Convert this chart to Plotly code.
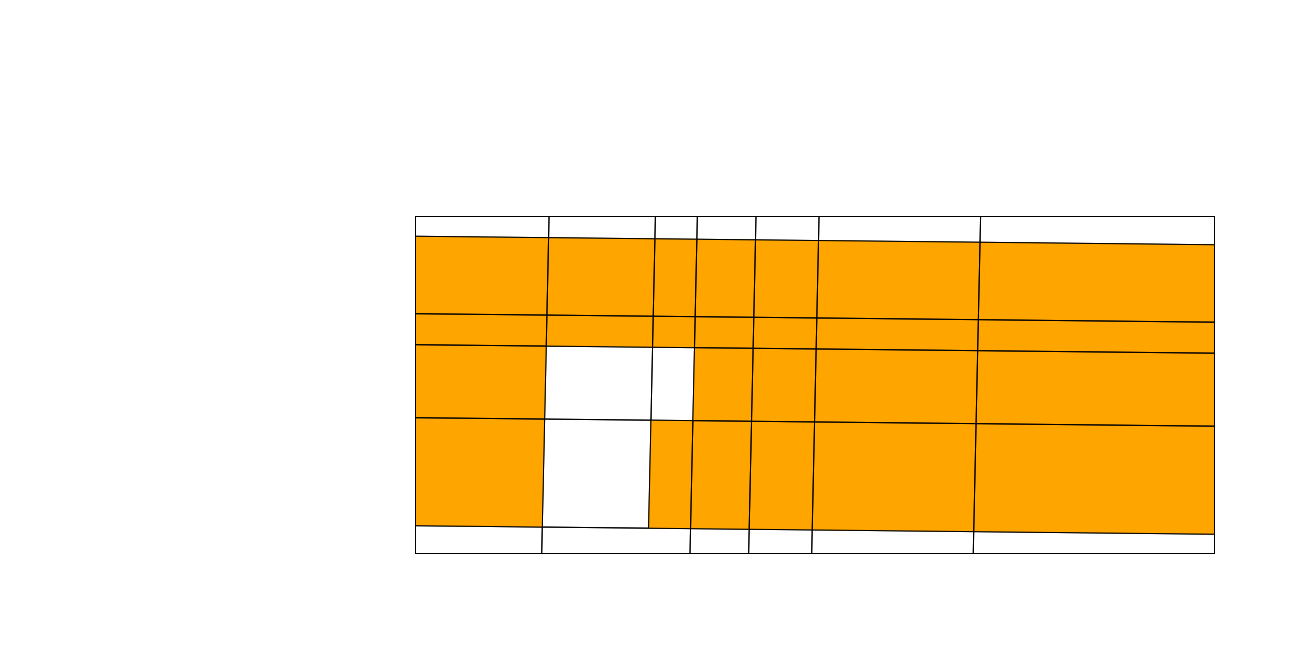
import plotly.graph_objects as go

# a-lines (near-vertical) positions measured along the bottom edge (x units)
a_pos = [-5.0, 15.86, 29.17, 34.42, 41.76, 49.65, 69.87, 105.0]
# b-lines (near-horizontal) positions measured along the left edge (y units), top -> bottom
b_pos = [110.0, 93.98, 71.01, 61.81, 40.15, 8.10, -10.0]

# fill state of each cell (1 = orange, 0 = empty), rows between consecutive b-lines
cell_fill = [
    [0, 0, 0, 0, 0, 0, 0],
    [1, 1, 1, 1, 1, 1, 1],
    [1, 1, 1, 1, 1, 1, 1],
    [1, 0, 0, 1, 1, 1, 1],
    [1, 0, 1, 1, 1, 1, 1],
]
# last row has merged cells: bounded by these a-line indices
last_row_edges = [0, 1, 3, 4, 5, 6, 7]
last_row_fill = [0, 0, 0, 0, 0, 0]

SKEW_A = 0.0092   # x shift of a-lines per y unit
SKEW_B = 0.0252   # y drop of b-lines per x unit


def node(i, j):
    u, v = a_pos[i], b_pos[j]
    x = (u + SKEW_A * v) / (1 + SKEW_A * SKEW_B)
    y = v - SKEW_B * x
    return x, y


polys = {0: ([], []), 1: ([], [])}


def add_cell(i0, i1, j, state):
    xs, ys = polys[state]
    for (i, jj) in [(i0, j), (i1, j), (i1, j + 1), (i0, j + 1), (i0, j)]:
        x, y = node(i, jj)
        xs.append(x)
        ys.append(y)
    xs.append(None)
    ys.append(None)


for j, row in enumerate(cell_fill):
    for i, st in enumerate(row):
        add_cell(i, i + 1, j, st)
jl = len(cell_fill)
for k, st in enumerate(last_row_fill):
    add_cell(last_row_edges[k], last_row_edges[k + 1], jl, st)

fig = go.Figure()
fig.add_trace(go.Scatter(x=polys[0][0], y=polys[0][1], mode="lines", fill="toself",
                         fillcolor="white", line=dict(color="black", width=1),
                         hoverinfo="skip", showlegend=False))
fig.add_trace(go.Scatter(x=polys[1][0], y=polys[1][1], mode="lines", fill="toself",
                         fillcolor="orange", line=dict(color="black", width=1),
                         hoverinfo="skip", showlegend=False))

axis_style = dict(showgrid=False, zeroline=False, showticklabels=False, ticks="",
                  showline=True, mirror=True, linecolor="black", linewidth=1)
fig.update_xaxes(range=[0.125, 100], **axis_style)
fig.update_yaxes(range=[0, 99.7], **axis_style)
fig.update_layout(width=1298, height=658, margin=dict(l=416, r=84, t=217, b=105),
                  paper_bgcolor="white", plot_bgcolor="white", showlegend=False)

fig.write_html("out.html")
